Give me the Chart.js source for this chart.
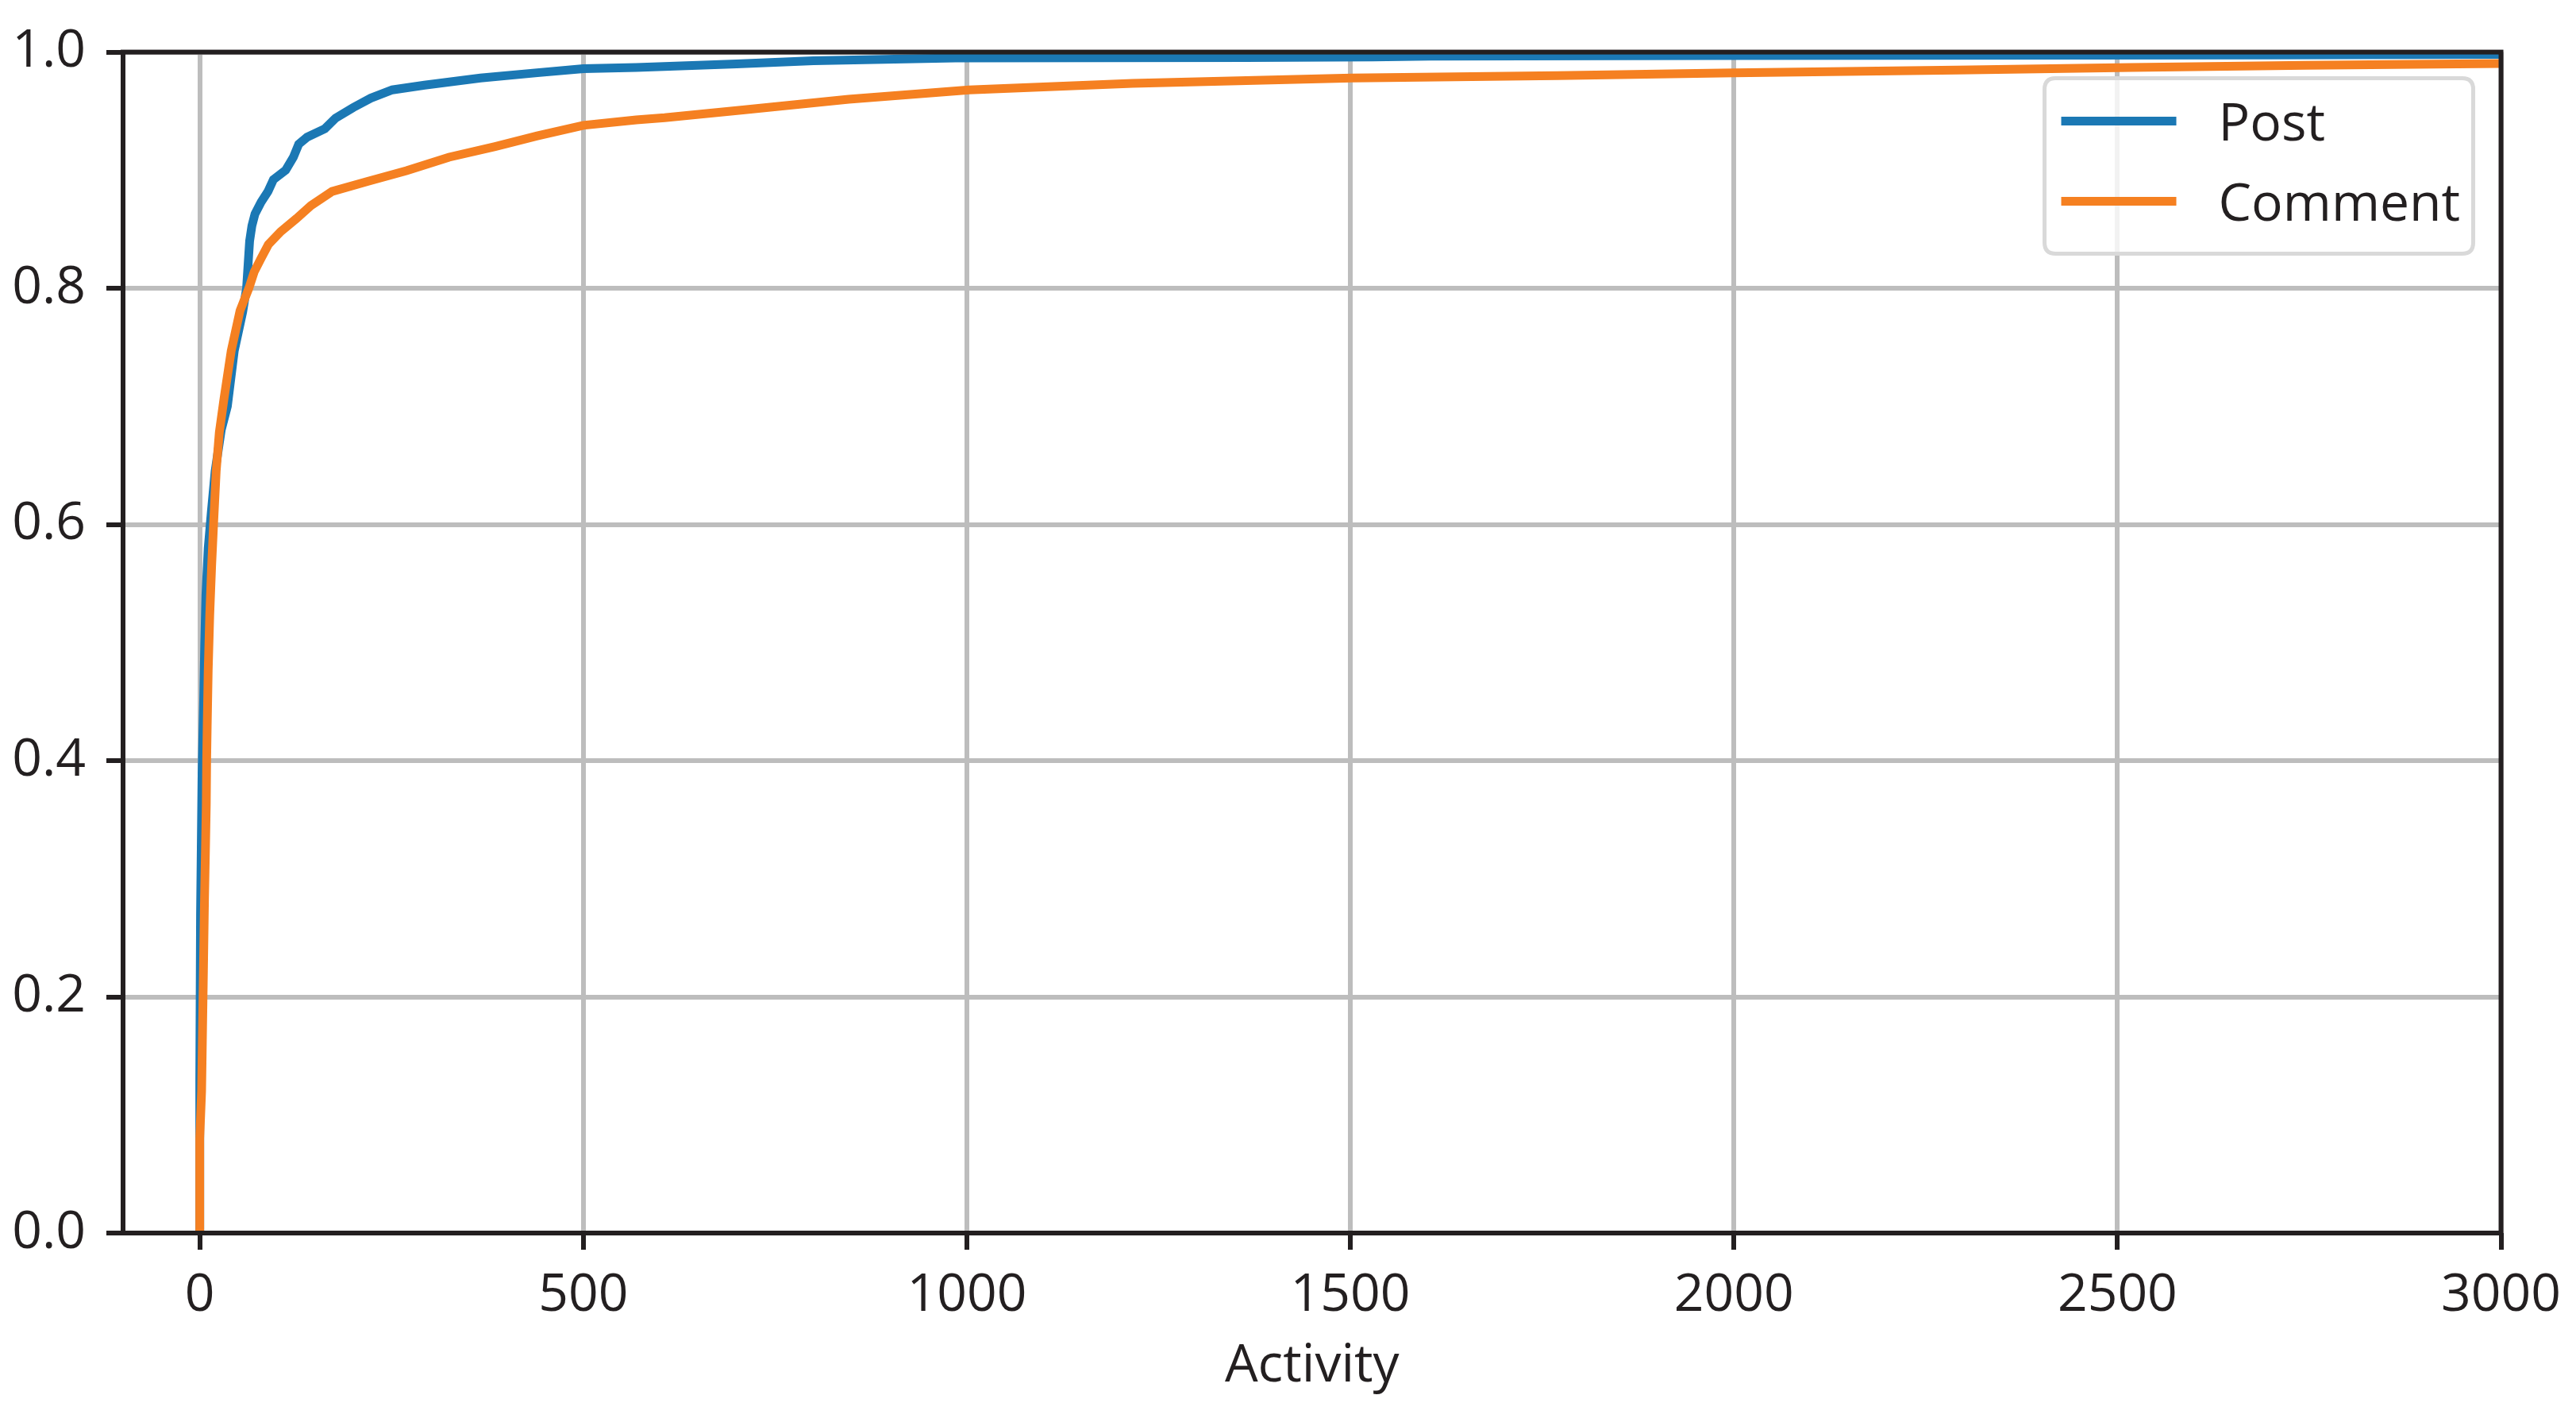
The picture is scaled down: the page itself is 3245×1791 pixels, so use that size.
<!DOCTYPE html>
<html>
<head>
<meta charset="utf-8">
<title>Activity CDF</title>
<script src="https://cdn.jsdelivr.net/npm/chart.js@4.4.1/dist/chart.umd.min.js"></script>
<style>
  html, body { margin: 0; padding: 0; background: #ffffff; }
  #wrap { width: 3245px; height: 1791px; }
</style>
</head>
<body>
<div id="wrap"><canvas id="cdf-chart" width="3245" height="1791"></canvas></div>
<script>
// ------------------------------------------------------
// DATA
// ------------------------------------------------------
const seriesNames = ["Post", "Comment"];

const postX = [0, 0, 1, 2, 3, 5, 6.5, 8, 11, 15, 20, 28, 36, 45, 56, 61, 63, 65, 68, 72, 80, 89, 96, 112, 122, 129, 140, 163, 177, 200, 223, 251, 293, 366, 440, 500, 569, 700, 800, 985, 1363, 1529, 1603, 1973, 2700, 3000];
const postY = [0, 0.13, 0.27, 0.33, 0.39, 0.45, 0.50, 0.54, 0.58, 0.61, 0.645, 0.68, 0.70, 0.747, 0.78, 0.80, 0.82, 0.84, 0.853, 0.863, 0.873, 0.882, 0.892, 0.90, 0.911, 0.922, 0.928, 0.935, 0.944, 0.953, 0.961, 0.968, 0.972, 0.978, 0.9825, 0.986, 0.987, 0.99, 0.9926, 0.995, 0.9953, 0.9958, 0.9965, 0.997, 0.9975, 0.998];

const commentX = [0, 0, 2.4, 3.4, 4.8, 6.2, 7.6, 8.5, 9, 9.7, 11, 13, 15.5, 18, 21.4, 25.5, 31.7, 41, 52.5, 64, 71, 80, 89.4, 105.5, 126, 145, 172.5, 218.7, 269.5, 325, 385, 440, 500, 569, 606, 708, 846, 1003, 1216, 1502, 1770, 2000, 2291, 2518, 2745, 3000];
const commentY = [0, 0.08, 0.12, 0.1625, 0.222, 0.283, 0.33, 0.363, 0.40, 0.429, 0.476, 0.523, 0.565, 0.60, 0.645, 0.678, 0.707, 0.747, 0.781, 0.80, 0.814, 0.8255, 0.837, 0.848, 0.859, 0.870, 0.882, 0.8905, 0.8995, 0.911, 0.92, 0.929, 0.938, 0.9426, 0.9444, 0.951, 0.960, 0.968, 0.9735, 0.978, 0.980, 0.9825, 0.9848, 0.987, 0.9888, 0.9904];

const xTicks = [0, 500, 1000, 1500, 2000, 2500, 3000];
const yTicks = [0, 0.2, 0.4, 0.6, 0.8, 1.0];

const xTitle = "Activity";

// ------------------------------------------------------
// STYLE
// ------------------------------------------------------
const FONT = "'Open Sans', 'Noto Sans', sans-serif";
const FONT_SIZE = 66;
const INK = "#231f20";
const GRID = "#bdbdbd";
const COLORS = ["#1b78b4", "#f58021"];
const LINE_W = 11;
const SPINE_W = 6;

Chart.defaults.font.family = FONT;
Chart.defaults.font.size = FONT_SIZE;
Chart.defaults.color = INK;

function toPoints(xs, ys) {
  const out = [];
  for (let i = 0; i < xs.length; i++) {
    out.push({ x: xs[i], y: ys[i] });
  }
  return out;
}

// ------------------------------------------------------
// PLUGINS: frame (all four spines) + matplotlib-like legend
// ------------------------------------------------------
const framePlugin = {
  id: "frame",
  afterDatasetsDraw(chart) {
    const a = chart.chartArea;
    const ctx = chart.ctx;
    ctx.save();
    ctx.strokeStyle = INK;
    ctx.lineWidth = SPINE_W;
    ctx.strokeRect(a.left, a.top, a.right - a.left, a.bottom - a.top);
    ctx.restore();
  },
};

function roundRect(ctx, x, y, w, h, r) {
  ctx.beginPath();
  ctx.moveTo(x + r, y);
  ctx.lineTo(x + w - r, y);
  ctx.quadraticCurveTo(x + w, y, x + w, y + r);
  ctx.lineTo(x + w, y + h - r);
  ctx.quadraticCurveTo(x + w, y + h, x + w - r, y + h);
  ctx.lineTo(x + r, y + h);
  ctx.quadraticCurveTo(x, y + h, x, y + h - r);
  ctx.lineTo(x, y + r);
  ctx.quadraticCurveTo(x, y, x + r, y);
  ctx.closePath();
}

const legendPlugin = {
  id: "innerLegend",
  afterDraw(chart) {
    const a = chart.chartArea;
    const ctx = chart.ctx;
    const boxRight = a.right - 35;
    const boxTop = a.top + 33;
    const boxW = 540;
    const boxH = 221;
    const boxLeft = boxRight - boxW;

    ctx.save();
    roundRect(ctx, boxLeft, boxTop, boxW, boxH, 14);
    ctx.fillStyle = "rgba(255,255,255,0.8)";
    ctx.fill();
    ctx.strokeStyle = "#d9d9d9";
    ctx.lineWidth = 5;
    ctx.stroke();

    ctx.font = FONT_SIZE + "px " + FONT;
    ctx.fillStyle = INK;
    ctx.textAlign = "left";
    ctx.textBaseline = "alphabetic";

    const rowY = [boxTop + 54, boxTop + 155];
    for (let i = 0; i < seriesNames.length; i++) {
      ctx.strokeStyle = COLORS[i];
      ctx.lineWidth = LINE_W;
      ctx.beginPath();
      ctx.moveTo(boxLeft + 21, rowY[i]);
      ctx.lineTo(boxLeft + 166, rowY[i]);
      ctx.stroke();
      ctx.fillText(seriesNames[i], boxLeft + 219, rowY[i] + 24);
    }
    ctx.restore();
  },
};

// ------------------------------------------------------
// CHART
// ------------------------------------------------------
const ctx = document.getElementById("cdf-chart").getContext("2d");

new Chart(ctx, {
  type: "line",
  data: {
    datasets: [
      {
        label: seriesNames[0],
        data: toPoints(postX, postY),
        borderColor: COLORS[0],
        borderWidth: LINE_W,
        pointRadius: 0,
        tension: 0,
        order: 1,
        clip: 0,
      },
      {
        label: seriesNames[1],
        data: toPoints(commentX, commentY),
        borderColor: COLORS[1],
        borderWidth: LINE_W,
        pointRadius: 0,
        tension: 0,
        order: 0,
        clip: 0,
      },
    ],
  },
  options: {
    responsive: false,
    maintainAspectRatio: false,
    devicePixelRatio: 1,
    animation: false,
    layout: {
      padding: { top: 64, right: 92, left: 0, bottom: 0 },
    },
    plugins: {
      legend: { display: false },
      tooltip: { enabled: false },
    },
    scales: {
      x: {
        type: "linear",
        min: -100,
        max: 3000,
        afterBuildTicks: function (scale) {
          scale.ticks = xTicks.map(function (v) { return { value: v }; });
        },
        afterFit: function (scale) {
          scale.height = 1791 - 1553;
        },
        border: { display: false },
        grid: {
          color: GRID,
          lineWidth: 6,
          drawTicks: true,
          tickLength: 21,
          tickWidth: 6,
          tickColor: INK,
        },
        ticks: {
          padding: 19,
          maxRotation: 0,
          autoSkip: false,
          color: INK,
          callback: function (v) { return String(v); },
        },
        title: {
          display: true,
          text: xTitle,
          color: INK,
          padding: { top: 4, bottom: 30 },
        },
      },
      y: {
        type: "linear",
        min: 0,
        max: 1,
        afterBuildTicks: function (scale) {
          scale.ticks = yTicks.map(function (v) { return { value: v }; });
        },
        afterFit: function (scale) {
          scale.width = 155;
        },
        border: { display: false },
        grid: {
          color: GRID,
          lineWidth: 6,
          drawTicks: true,
          tickLength: 21,
          tickWidth: 6,
          tickColor: INK,
        },
        ticks: {
          padding: 26,
          color: INK,
          callback: function (v) { return Number(v).toFixed(1); },
        },
      },
    },
  },
  plugins: [framePlugin, legendPlugin],
});
</script>
</body>
</html>
